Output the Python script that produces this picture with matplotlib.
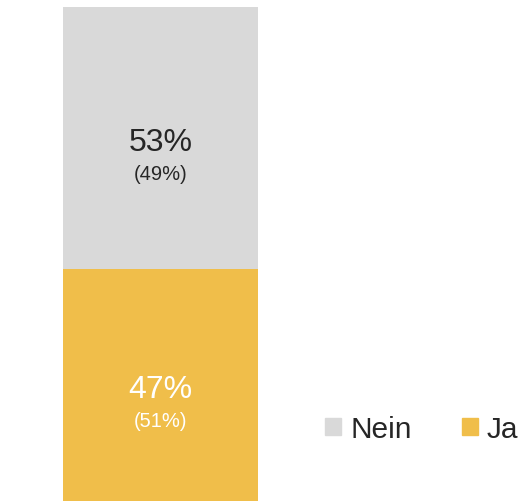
import matplotlib
matplotlib.use("Agg")
import matplotlib.pyplot as plt
from matplotlib.patches import Patch

plt.rcParams['font.family'] = ['Liberation Sans', 'DejaVu Sans']

# data
categories = ['Ja', 'Nein']
shares = [47, 53]
shares_prev = [51, 49]
colors = ['#f0be4a', '#d9d9d9']
text_colors = ['white', '#262626']

W, H = 523, 502
fig = plt.figure(figsize=(W / 100, H / 100), dpi=100)
ax = fig.add_axes([0, 0, 1, 1])

bar_left, bar_w = 63, 195
ax.set_xlim(-bar_left / bar_w, (W - bar_left) / bar_w)
ax.set_ylim(0, 100 * H / 494)
ax.axis('off')

bottom = 0
for cat, val, prev, col, tc in zip(categories, shares, shares_prev, colors, text_colors):
    ax.bar(0.5, val, width=1, bottom=bottom, color=col, linewidth=0)
    mid = bottom + val / 2
    ax.text(0.5, mid - 0.9, f'{val}%', ha='center', va='center', fontsize=23, color=tc)
    ax.text(0.5, mid - 7.2, f'({prev}%)', ha='center', va='center', fontsize=14.5, color=tc)
    bottom += val

handles = [Patch(color=colors[1], label=categories[1]), Patch(color=colors[0], label=categories[0])]
fig.legend(handles=handles, loc='center left', bbox_to_anchor=(325 / W, 1 - 430 / H),
           ncol=2, frameon=False, fontsize=21.5, borderpad=0, borderaxespad=0,
           handlelength=0.54, handleheight=0.54, handletextpad=0.3, columnspacing=1.68,
           labelcolor='#262626')

fig.savefig('out.png', dpi=100)
